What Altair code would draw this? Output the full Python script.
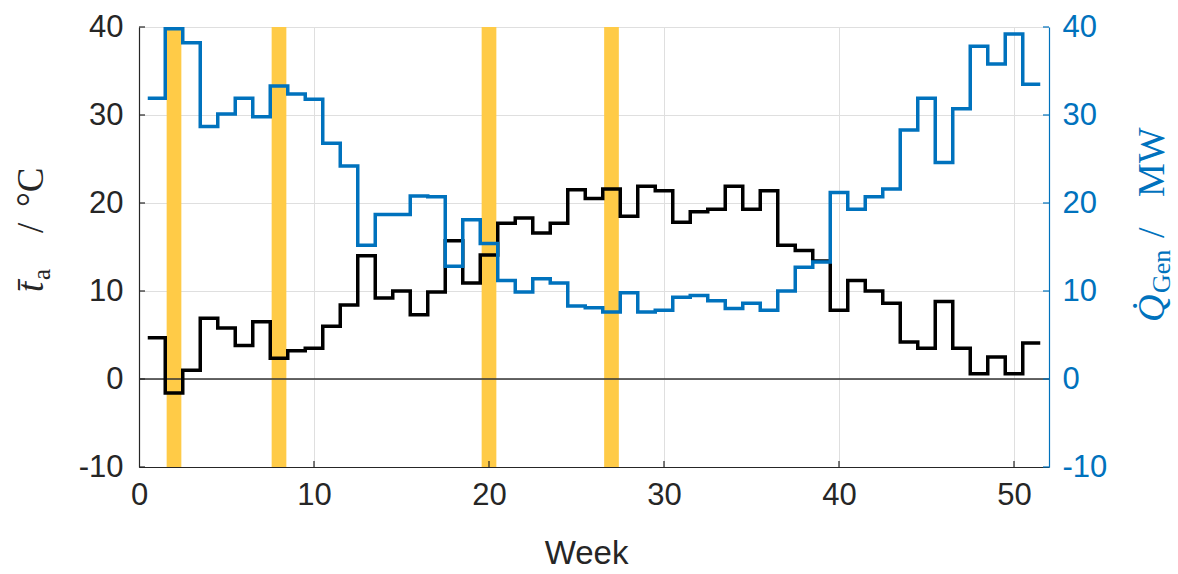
import altair as alt
import pandas as pd

# Weekly mean ambient temperature (°C) and generated heat (MW), weeks 1..51
weeks = list(range(1, 52))
temp_c = [4.7, -1.6, 1.0, 6.9, 5.8, 3.8, 6.5, 2.35, 3.2, 3.5,
          6.0, 8.4, 14.0, 9.2, 10.0, 7.3, 9.9, 15.7, 10.9, 14.1,
          17.7, 18.3, 16.6, 17.7, 21.5, 20.5, 21.6, 18.5, 21.9, 21.4,
          17.8, 19.0, 19.3, 21.9, 19.3, 21.4, 15.2, 14.6, 13.4, 7.8,
          11.2, 10.0, 8.6, 4.2, 3.5, 8.8, 3.5, 0.6, 2.5, 0.6, 4.1]
q_gen = [31.9, 39.8, 38.2, 28.7, 30.1, 31.9, 29.8, 33.3, 32.4, 31.8,
         26.8, 24.2, 15.2, 18.7, 18.7, 20.8, 20.7, 12.8, 18.1, 15.4,
         11.2, 9.9, 11.4, 10.9, 8.3, 8.1, 7.6, 9.8, 7.6, 7.8,
         9.3, 9.5, 8.9, 8.0, 8.6, 7.8, 10.0, 12.7, 13.3, 21.2,
         19.3, 20.7, 21.6, 28.3, 31.9, 24.6, 30.7, 37.8, 35.8, 39.2, 33.5]

# Selected weeks highlighted by vertical bands
highlight_weeks = [2, 8, 20, 27]
band_half = 0.42

x_ticks = [0, 10, 20, 30, 40, 50]
y_ticks = [-10, 0, 10, 20, 30, 40]
x_domain = [0, 52]
y_domain = [-10, 40]

W, H = 910, 440
TXT = "#262626"
BLUE = "#0072BD"
BAND = "#FFCB47"
GRID = "#DFDFDF"
TICK_LEN = 6
LABEL_FONT = "Liberation Sans"


def stairs(values):
    # each week is a flat segment from week-0.5 to week+0.5
    xs = [w - 0.5 for w in weeks] + [weeks[-1] + 0.5]
    ys = list(values) + [values[-1]]
    return pd.DataFrame({"edge": xs, "value": ys})


x_scale = alt.Scale(domain=x_domain, nice=False, zero=False)
y_scale = alt.Scale(domain=y_domain, nice=False, zero=False)

x_axis = alt.Axis(
    values=x_ticks, title="Week", grid=True, gridColor=GRID, gridWidth=1,
    ticks=False, domainColor=TXT, domainWidth=1.2,
    labelFont=LABEL_FONT, labelFontSize=31, labelColor=TXT,
    labelPadding=13, labelFlush=False, labelExpr="'' + datum.value",
    titleFont=LABEL_FONT, titleFontSize=33, titleFontWeight="normal",
    titleColor=TXT, titlePadding=27, titleX=447)

bands_df = pd.DataFrame({"lo": [w - band_half for w in highlight_weeks],
                         "hi": [w + band_half for w in highlight_weeks]})

bands = alt.Chart(bands_df).mark_rect(color=BAND).encode(
    x=alt.X("lo:Q", scale=x_scale, axis=x_axis),
    x2="hi:Q",
    y=alt.value(0),
    y2=alt.value(H),
)

zero_line = alt.Chart(pd.DataFrame({"v": [0]})).mark_rule(
    color="#333333", strokeWidth=1.5
).encode(y=alt.Y("v:Q", scale=y_scale, axis=None))

temp_line = alt.Chart(stairs(temp_c)).mark_line(
    interpolate="step-after", color="#000000", strokeWidth=3.5
).encode(
    x=alt.X("edge:Q", scale=x_scale, axis=x_axis),
    y=alt.Y("value:Q", scale=y_scale, axis=alt.Axis(
        orient="left", values=y_ticks, title=None, grid=True, gridColor=GRID,
        gridWidth=1, ticks=False, domainColor=TXT, domainWidth=1.2,
        labelFont=LABEL_FONT, labelFontSize=31, labelColor=TXT,
        labelPadding=16, labelFlush=False, labelExpr="'' + datum.value")),
)

gen_line = alt.Chart(stairs(q_gen)).mark_line(
    interpolate="step-after", color=BLUE, strokeWidth=3.5
).encode(
    x=alt.X("edge:Q", scale=x_scale, axis=x_axis),
    y=alt.Y("value:Q", scale=y_scale, axis=alt.Axis(
        orient="right", values=y_ticks, title=None, grid=False, ticks=False,
        domainColor=BLUE, domainWidth=1.2,
        labelFont=LABEL_FONT, labelFontSize=31, labelColor=BLUE,
        labelPadding=13, labelFlush=False, labelExpr="'' + datum.value")),
)

# inward tick marks on the three axes
yt = pd.DataFrame({"v": y_ticks})
xt = pd.DataFrame({"v": x_ticks[1:]})
left_ticks = alt.Chart(yt).mark_rule(color=TXT, strokeWidth=1.2).encode(
    y=alt.Y("v:Q", scale=y_scale, axis=None),
    x=alt.value(0), x2=alt.value(TICK_LEN))
right_ticks = alt.Chart(yt).mark_rule(color=BLUE, strokeWidth=1.2).encode(
    y=alt.Y("v:Q", scale=y_scale, axis=None),
    x=alt.value(W - TICK_LEN), x2=alt.value(W))
bottom_ticks = alt.Chart(xt).mark_rule(color=TXT, strokeWidth=1.2).encode(
    x=alt.X("v:Q", scale=x_scale, axis=x_axis),
    y=alt.value(H), y2=alt.value(H - TICK_LEN))

one = pd.DataFrame({"k": [0]})


def piece(text, x, y, size, color, style="normal"):
    return alt.Chart(one).mark_text(
        text=text, angle=270, align="left", baseline="alphabetic",
        font="Liberation Serif", fontSize=size, fontStyle=style, color=color
    ).encode(x=alt.value(x), y=alt.value(y))


# rotated axis titles: t̄_a / °C on the left, Q̇_Gen / MW on the right
left_title = [
    piece("t\u0304", -96, 265, 37, TXT, "italic"),
    piece("a", -89, 253, 25, TXT),
    piece("/", -96, 206, 37, TXT),
    piece("°C", -96, 180, 37, TXT),
]
right_title = [
    piece("Q\u0307", 1025, 295, 38, BLUE, "italic"),
    piece("Gen", 1031, 266, 26, BLUE),
    piece("/", 1025, 211, 38, BLUE),
    piece("MW", 1025, 170, 38, BLUE),
]

chart = alt.layer(
    bands, zero_line, temp_line, gen_line,
    left_ticks, right_ticks, bottom_ticks,
    *left_title, *right_title,
).resolve_scale(y="independent").properties(
    width=W, height=H,
    autosize=alt.AutoSizeParams(type="none"),
    padding={"left": 139, "top": 27, "right": 129, "bottom": 107},
    background="white",
).configure_view(stroke=None)

chart.save("out.html", embed_options={"renderer": "svg", "actions": False})
